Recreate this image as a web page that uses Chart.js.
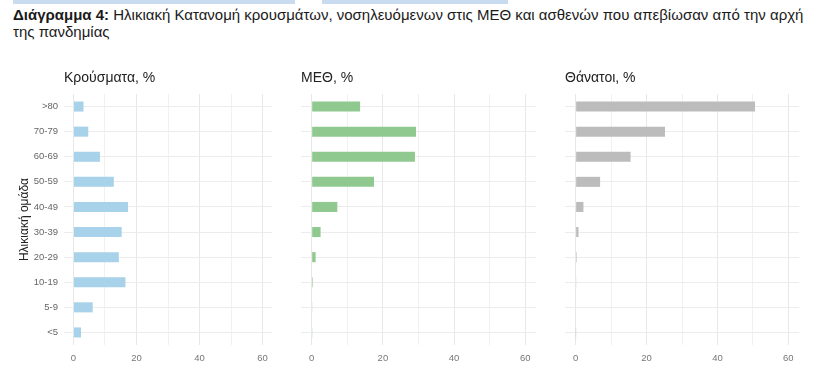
<!DOCTYPE html>
<html>
<head>
<meta charset="utf-8">
<script src="https://cdn.jsdelivr.net/npm/chart.js@4/dist/chart.umd.min.js"></script>
<style>
  html, body { margin:0; padding:0; background:#fff; }
  #wrap { position:relative; width:840px; height:387px; overflow:hidden; background:#fff; }
  canvas { position:absolute; left:0; top:0; }
  #title { position:absolute; left:13px; top:6px; font-family:"Liberation Sans", Arial, sans-serif; font-size:15px; line-height:17px; color:#1a1a1a; white-space:nowrap; }
  .strip { position:absolute; top:0; height:4px; background:#c9dcef; }
</style>
</head>
<body>
<div id="wrap">
  <div class="strip" style="left:13px;width:282px"></div>
  <div class="strip" style="left:322px;width:186px"></div>
  <div id="title"><b>Διάγραμμα 4:</b> Ηλικιακή Κατανομή κρουσμάτων, νοσηλευόμενων στις ΜΕΘ και ασθενών που απεβίωσαν από την αρχή<br>της πανδημίας</div>
  <canvas id="c1" width="840" height="387"></canvas>
  <canvas id="c2" width="840" height="387"></canvas>
  <canvas id="c3" width="840" height="387"></canvas>
</div>
<script>
// ---- data ----
const ageGroups = ['>80','70-79','60-69','50-59','40-49','30-39','20-29','10-19','5-9','<5'];
const casesPct  = [3.2, 4.7, 8.4, 12.8, 17.3, 15.3, 14.4, 16.5, 6.1, 2.4];
const icuPct    = [13.6, 29.3, 29.0, 17.5, 7.2, 2.5, 1.1, 0.3, 0.1, 0.2];
const deathsPct = [50.6, 25.2, 15.5, 6.9, 2.2, 0.8, 0.3, 0.1, 0, 0.05];
const xTicks    = [0, 10, 20, 30, 40, 50, 60];
const panelTitles = ['Κρούσματα, %', 'ΜΕΘ, %', 'Θάνατοι, %'];
const yAxisTitle = 'Ηλικιακή ομάδα';

const FONT = '"Liberation Sans", Arial, sans-serif';

const panelTitlePlugin = {
  id: 'panelTitle',
  afterDraw(chart, args, opts) {
    const ctx = chart.ctx;
    ctx.save();
    ctx.font = '14px ' + FONT;
    ctx.fillStyle = '#222';
    ctx.textBaseline = 'middle';
    ctx.textAlign = 'left';
    ctx.fillText(opts.text, chart.chartArea.left, 78);
    ctx.restore();
  }
};

function makeChart(id, values, color, left, right, showY, title) {
  const yWidth = showY ? 47 : 0;
  return new Chart(document.getElementById(id), {
    type: 'bar',
    data: {
      labels: ageGroups,
      datasets: [{ data: values, backgroundColor: color, borderWidth: 0,
                   barPercentage: 0.4, categoryPercentage: 1.0 }]
    },
    plugins: [panelTitlePlugin],
    options: {
      indexAxis: 'y',
      responsive: false,
      animation: false,
      layout: { padding: { left: left - yWidth, right: 840 - right, top: 94, bottom: 387 - 345 - 20 } },
      plugins: { legend: { display: false }, tooltip: { enabled: false }, panelTitle: { text: title } },
      scales: {
        x: {
          type: 'linear', min: -3, max: 63,
          afterBuildTicks: (s) => { s.ticks = xTicks.map(v => ({ value: v })); },
          afterFit: (s) => { s.height = 20; },
          grid: { color: (c) => (c.tick && c.tick.value % 20 === 0) ? '#e8e8e8' : '#f1f1f1', drawTicks: false, lineWidth: 1 },
          border: { display: false },
          ticks: { padding: 8, color: '#777', font: { family: FONT, size: 9.5 },
                   callback: (v) => (v % 20 === 0 ? String(v) : '') }
        },
        y: {
          type: 'category', offset: true,
          afterFit: (s) => { s.width = yWidth; },
          grid: { offset: false, color: '#ececec', drawTicks: false },
          border: { display: false },
          ticks: { display: showY, padding: 6, color: '#666', font: { family: FONT, size: 9.5 } },
          title: { display: showY, text: yAxisTitle, color: '#222', padding: 0, font: { family: FONT, size: 12 } }
        }
      }
    }
  });
}

makeChart('c1', casesPct,  '#a7d2ea', 64, 272, true,  panelTitles[0]);
makeChart('c2', icuPct,    '#90c98f', 301, 536, false, panelTitles[1]);
makeChart('c3', deathsPct, '#bcbcbc', 565, 799, false, panelTitles[2]);
</script>
</body>
</html>
